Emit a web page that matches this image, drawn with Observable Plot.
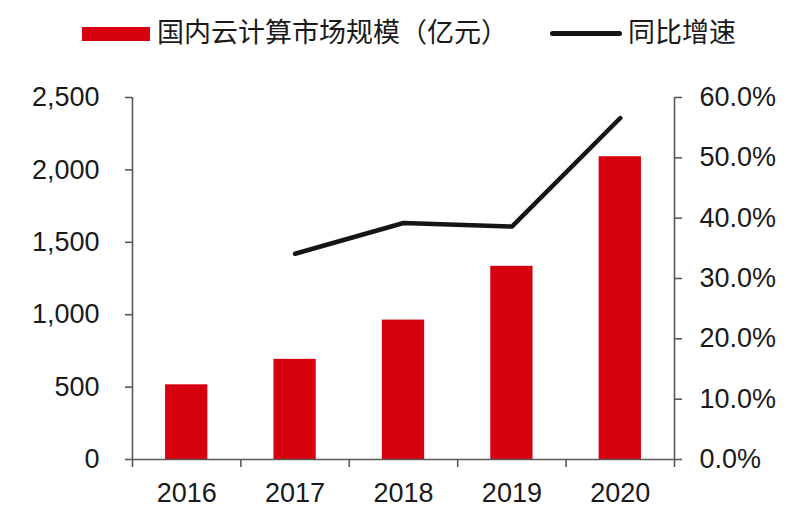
<!DOCTYPE html>
<html>
<head>
<meta charset="utf-8">
<script src="https://cdn.jsdelivr.net/npm/d3@7"></script>
<script src="https://cdn.jsdelivr.net/npm/@observablehq/plot@0.6"></script>
<style>
  html, body { margin: 0; padding: 0; background: #fff; }
  #wrap { width: 800px; }
  #legend { position: relative; width: 800px; height: 65px; font-family: "Noto Sans CJK SC", "Noto Sans", sans-serif; font-size: 27px; color: #1a1a1a; }
  #legend .sw { position: absolute; }
  #legend .lbl { position: absolute; line-height: 1; white-space: nowrap; top: 17px; }
  svg { display: block; }
</style>
</head>
<body>
<div id="wrap">
  <div id="legend"></div>
  <div id="chart"></div>
</div>
<script>
const years = [2016, 2017, 2018, 2019, 2020];
const marketSize = [515.8, 691.6, 962.8, 1334, 2091];
const growthYears = [2017, 2018, 2019, 2020];
const growthRate = [0.341, 0.392, 0.386, 0.566];
const leftTicks = [0, 500, 1000, 1500, 2000, 2500];
const rightTicks = [0, 0.1, 0.2, 0.3, 0.4, 0.5, 0.6];
const seriesNames = ["国内云计算市场规模（亿元）", "同比增速"];

const red = "#d7000f";
const axisColor = "#5a5a5a";
const k = 2500 / 0.6;

const bars = years.map((year, i) => ({year, value: marketSize[i]}));
const growth = growthYears.map((year, i) => ({year, rate: growthRate[i]}));
const boundaries = [years[0] - 0.5, ...years.map(y => y + 0.5)];

// legend
const legend = document.getElementById("legend");
legend.innerHTML = `
  <div class="sw" style="left:82px;top:27px;width:68px;height:14px;background:${red}"></div>
  <div class="lbl" style="left:157px">${seriesNames[0]}</div>
  <div class="sw" style="left:550px;top:31px;width:72px;height:5px;border-radius:3px;background:#151515"></div>
  <div class="lbl" style="left:628px">${seriesNames[1]}</div>
`;

const chart = Plot.plot({
  width: 800,
  height: 450,
  marginTop: 32,
  marginBottom: 56,
  marginLeft: 132,
  marginRight: 126,
  style: {fontFamily: "'Liberation Sans', Arial, sans-serif", fontSize: "27px", color: "#1a1a1a", background: "#fff"},
  x: {domain: [boundaries[0], boundaries[boundaries.length - 1]], axis: null},
  y: {domain: [0, 2500], axis: null},
  marks: [
    Plot.rectY(bars, {x1: d => d.year - 0.195, x2: d => d.year + 0.195, y: "value", fill: red}),
    Plot.line(growth, {x: "year", y: d => d.rate * k, stroke: "#151515", strokeWidth: 4.5, strokeLinecap: "round", strokeLinejoin: "round"}),
    Plot.ruleX([boundaries[0]], {stroke: axisColor, strokeWidth: 1.6}),
    Plot.ruleX([boundaries[boundaries.length - 1]], {stroke: axisColor, strokeWidth: 1.6}),
    Plot.ruleY([0], {stroke: axisColor, strokeWidth: 1.6}),
    Plot.axisY({anchor: "left", label: null, ticks: leftTicks, tickFormat: d3.format(","), tickSize: 7, tickPadding: 26, stroke: axisColor, strokeWidth: 1.6, fontSize: 27}),
    Plot.axisY({anchor: "right", label: null, ticks: rightTicks.map(v => v * k), tickFormat: d => (d / k * 100).toFixed(1) + "%", tickSize: 7, tickPadding: 18, stroke: axisColor, strokeWidth: 1.6, fontSize: 27}),
    Plot.axisX({label: null, ticks: boundaries, tickFormat: () => "", tickSize: 8, stroke: axisColor, strokeWidth: 1.6}),
    Plot.axisX({label: null, ticks: years, tickFormat: d => String(d), tickSize: 0, tickPadding: 23, fontSize: 27})
  ]
});
document.getElementById("chart").appendChild(chart);
</script>
</body>
</html>
